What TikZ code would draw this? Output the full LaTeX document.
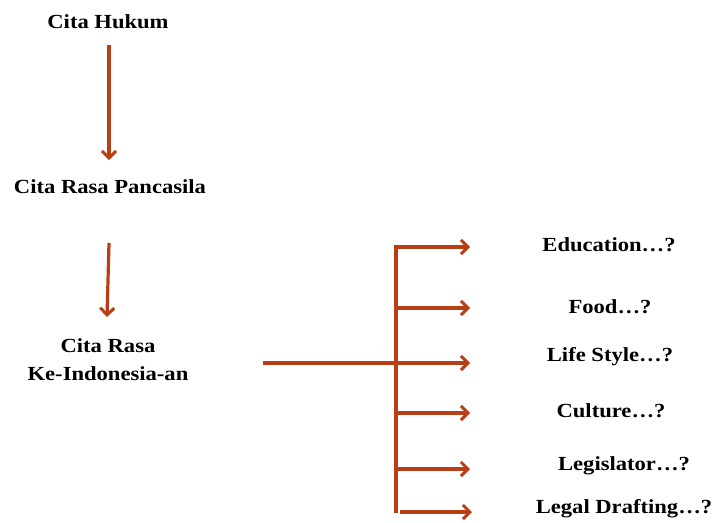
\documentclass[tikz,border=0pt]{standalone}
\usepackage{fontspec}
\setmainfont{Liberation Serif}[FakeStretch=1.13]
\usetikzlibrary{arrows.meta}
\definecolor{rust}{RGB}{184,62,22}
\tikzset{
  lbl/.style={font=\fontsize{20}{28}\selectfont\bfseries, inner sep=0pt, text=black},
  conn/.style={draw=rust, line width=3.2pt, line join=miter},
  arr/.style={conn, -{Straight Barb[length=7pt,width=14pt,line width=3pt]}}
}
\begin{document}
\begin{tikzpicture}[x=1pt,y=-1pt]
\useasboundingbox (0,0) rectangle (712,522);
\node[lbl] (hukum) at (108,22) {Cita Hukum};
\node[lbl] (pancasila) at (110,187) {Cita Rasa Pancasila};
\node[lbl, align=center] (indo) at (108,360) {Cita Rasa\\Ke-Indonesia-an};
\node[lbl] (edu) at (609,245) {Education…?};
\node[lbl] (food) at (610,307) {Food…?};
\node[lbl] (life) at (610,357) {Life Style…?};
\node[lbl] (cult) at (611,411) {Culture…?};
\node[lbl] (legis) at (624,466) {Legislator…?};
\node[lbl] (draft) at (624,509) {Legal Drafting…?};
\coordinate (a1s) at (109,45);
\coordinate (a1e) at (109,160);
\coordinate (a2s) at (109,243);
\coordinate (a2e) at (107,317);
\coordinate (hs) at (263,363);
\coordinate (hub) at (396,363);
\coordinate (ttop) at (396,247);
\coordinate (tbot) at (396,513);
\coordinate (e1) at (470,247);
\coordinate (b2) at (396,308);
\coordinate (e2) at (470,308);
\coordinate (e3) at (470,363);
\coordinate (b4) at (396,413);
\coordinate (e4) at (470,413);
\coordinate (b5) at (396,469);
\coordinate (e5) at (470,469);
\coordinate (b6) at (400,512);
\coordinate (e6) at (472,512);
\draw[arr] (a1s) -- (a1e);
\draw[arr] (a2s) -- (a2e);
\draw[conn] (hs) -- (hub);
\draw[arr] (tbot) -- (ttop) -- (e1);
\draw[arr] (b2) -- (e2);
\draw[arr] (hub) -- (e3);
\draw[arr] (b4) -- (e4);
\draw[arr] (b5) -- (e5);
\draw[arr] (b6) -- (e6);
\end{tikzpicture}
\end{document}
